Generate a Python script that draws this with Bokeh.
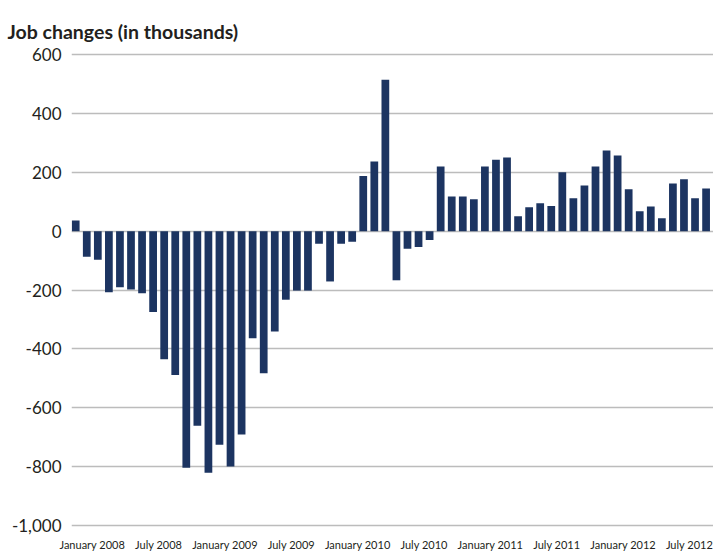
from bokeh.plotting import figure
from bokeh.models import ColumnDataSource, FixedTicker, Range1d, Title, NumeralTickFormatter
from bokeh.embed import file_html
from bokeh.resources import INLINE

# Monthly job changes (thousands), January 2008 .. October 2012
months = [f"{m} {y}" for y in range(2008, 2013) for m in
          ["January", "February", "March", "April", "May", "June", "July",
           "August", "September", "October", "November", "December"]][:58]
job_changes = [36, -87, -97, -208, -191, -198, -211, -275, -435, -489, -804, -661,
               -821, -726, -800, -691, -364, -483, -341, -233, -202, -202, -43, -171,
               -43, -36, 187, 237, 514, -167, -60, -54, -30, 220, 118, 118,
               108, 220, 243, 250, 51, 81, 95, 85, 200, 112, 155, 220,
               274, 257, 142, 68, 84, 44, 162, 176, 112, 145]
x_tick_labels = ["January 2008", "July 2008", "January 2009", "July 2009", "January 2010",
                 "July 2010", "January 2011", "July 2011", "January 2012", "July 2012"]
y_ticks = [-1000, -800, -600, -400, -200, 0, 200, 400, 600]
title_text = "Job changes (in thousands)"

FONT = "Lato"
TEXT = "#231f20"
BAR = "#1c3461"
LABEL_SHIFT = 1.5

W, H = 713, 553
LEFT, TOP, BOTTOM = 71, 52, 24

idx = list(range(len(job_changes)))
src = ColumnDataSource(dict(x=idx, top=job_changes, month=months))

p = figure(width=W, height=H, output_backend="svg", toolbar_location=None,
           x_range=Range1d(-0.38, 57.67), y_range=Range1d(-1007, 607),
           min_border_left=LEFT, min_border_right=0, min_border_top=TOP,
           min_border_bottom=BOTTOM, outline_line_color=None)

p.vbar(x="x", top="top", bottom=0, width=0.7, source=src,
       fill_color=BAR, line_color=None)

p.title = Title(text=title_text, text_font=FONT, text_font_size="19.5px",
                text_font_style="bold", text_color=TEXT, align="left",
                vertical_align="top", offset=-64, standoff=16)

# y axis
p.yaxis.ticker = FixedTicker(ticks=y_ticks)
p.yaxis.formatter = NumeralTickFormatter(format="0,0")
p.yaxis.axis_line_color = None
p.yaxis.major_tick_line_color = None
p.yaxis.minor_tick_line_color = None
p.yaxis.major_tick_out = 0
p.yaxis.major_tick_in = 0
p.yaxis.major_label_standoff = 10
p.yaxis.major_label_text_font = FONT
p.yaxis.major_label_text_font_size = "17px"
p.yaxis.major_label_text_color = TEXT

# x axis
xt = [months.index(l) + LABEL_SHIFT for l in x_tick_labels]
p.xaxis.ticker = FixedTicker(ticks=xt)
p.xaxis.major_label_overrides = {t: l for t, l in zip(xt, x_tick_labels)}
p.xaxis.axis_line_color = None
p.xaxis.major_tick_line_color = None
p.xaxis.minor_tick_line_color = None
p.xaxis.major_tick_out = 0
p.xaxis.major_tick_in = 0
p.xaxis.major_label_standoff = 10
p.xaxis.major_label_text_font = FONT
p.xaxis.major_label_text_font_size = "11px"
p.xaxis.major_label_text_color = TEXT

p.xgrid.grid_line_color = None
p.ygrid.ticker = FixedTicker(ticks=y_ticks)
p.ygrid.grid_line_color = "#bcbcbc"
p.ygrid.grid_line_width = 1.5
p.ygrid.level = "underlay"

open("out.html", "w").write(file_html(p, INLINE))
